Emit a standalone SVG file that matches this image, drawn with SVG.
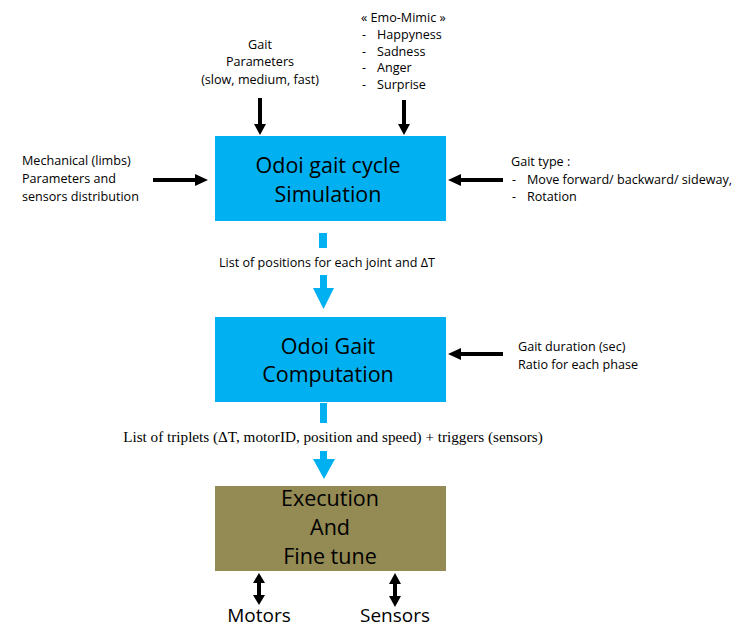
<svg xmlns="http://www.w3.org/2000/svg" width="741" height="633" viewBox="0 0 741 633">
<style>
.t{font-family:"Open Sans","Noto Sans",sans-serif;font-size:12.6px;fill:#000}
.b{font-family:"Open Sans","Noto Sans",sans-serif;font-size:21.5px;fill:#000;text-anchor:middle}
.m{font-family:"Open Sans","Noto Sans",sans-serif;font-size:19px;fill:#000;text-anchor:middle}
.s{font-family:"Liberation Serif","DejaVu Serif",serif;font-size:15.2px;fill:#000}
.blue{fill:#00B0F0}
.k{fill:#000}
</style>
<rect width="741" height="633" fill="#fff"/>
<g id="sim">
<rect x="215" y="136" width="231" height="85" class="blue"/>
<text class="b" x="328" y="173">Odoi gait cycle</text>
<text class="b" x="328" y="202">Simulation</text>
</g>
<g id="comp">
<rect x="215" y="317" width="231" height="85" class="blue"/>
<text class="b" x="328" y="354">Odoi Gait</text>
<text class="b" x="328" y="382">Computation</text>
</g>
<g id="exec">
<rect x="215" y="486" width="231" height="85" fill="#948A54"/>
<text class="b" x="330" y="506">Execution</text>
<text class="b" x="330" y="535">And</text>
<text class="b" x="330" y="564">Fine tune</text>
</g>
<g id="gaitparams">
<text class="t" x="260" y="49" text-anchor="middle">Gait</text>
<text class="t" x="260" y="66" text-anchor="middle">Parameters</text>
<text class="t" x="260" y="84" text-anchor="middle">(slow, medium, fast)</text>
</g>
<g id="emo">
<text class="t" x="361" y="22">« Emo-Mimic »</text>
<text class="t" x="362" y="39">-</text><text class="t" x="377" y="39">Happyness</text>
<text class="t" x="362" y="56">-</text><text class="t" x="377" y="56">Sadness</text>
<text class="t" x="362" y="72">-</text><text class="t" x="377" y="72">Anger</text>
<text class="t" x="362" y="89">-</text><text class="t" x="377" y="89">Surprise</text>
</g>
<g id="mech">
<text class="t" x="22" y="165">Mechanical (limbs)</text>
<text class="t" x="22" y="183">Parameters and</text>
<text class="t" x="22" y="201">sensors distribution</text>
</g>
<g id="gaittype">
<text class="t" x="511" y="166">Gait type :</text>
<text class="t" x="512" y="184">-</text><text class="t" x="527" y="184">Move forward/ backward/ sideway,</text>
<text class="t" x="512" y="201">-</text><text class="t" x="527" y="201">Rotation</text>
</g>
<g id="duration">
<text class="t" x="518" y="351">Gait duration (sec)</text>
<text class="t" x="518" y="369">Ratio for each phase</text>
</g>
<g id="motors"><text class="m" x="259" y="622">Motors</text></g>
<g id="sensors"><text class="m" x="395" y="622">Sensors</text></g>
<g id="connectors">
<rect x="319" y="233" width="8" height="15" class="blue"/>
<text class="t" x="327" y="267" text-anchor="middle">List of positions for each joint and ΔT</text>
<path class="blue" d="M320 275H327V288H334L323.5 309L313 288H320Z"/>
<rect x="320" y="403" width="7" height="20" class="blue"/>
<text class="s" x="333" y="442" text-anchor="middle">List of triplets (ΔT, motorID, position and speed) + triggers (sensors)</text>
<path class="blue" d="M320 451H327V459H335L324 479L313 459H320Z"/>
<path class="k" d="M258 98H262V124H266L260 135L254 124H258Z"/>
<path class="k" d="M402 100H406V124H410L404 135L398 124H402Z"/>
<path class="k" d="M153 178H195V174L208 180L195 186V182H153Z"/>
<path class="k" d="M503 178H461V174L448 180L461 186V182H503Z"/>
<path class="k" d="M503 352H461V348L448 354L461 360V356H503Z"/>
<path class="k" d="M257 583H261V595H265L259 605L253 595H257V583H253L259 573L265 583Z"/>
<path class="k" d="M393 584H397V596H401L395 607L389 596H393V584H389L395 573L401 584Z"/>
</g>
</svg>
